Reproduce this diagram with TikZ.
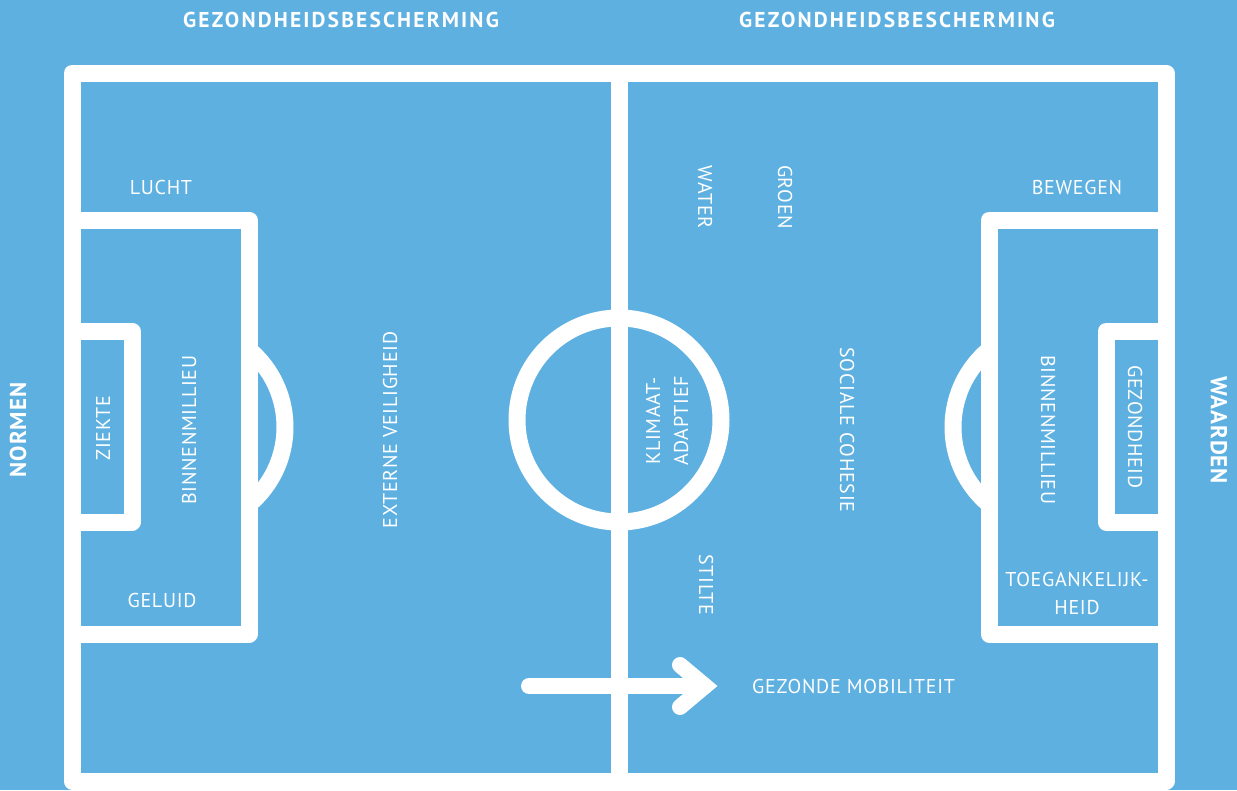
\documentclass[tikz,border=0pt]{standalone}
\usepackage{fontspec}
\setmainfont{PT Sans}
\definecolor{bg}{HTML}{5EB0E1}
\tikzset{
  fieldline/.style={draw=white, line width=17pt, line join=round},
  lbl/.style={text=white, font=\fontsize{20}{28}\selectfont\addfontfeatures{LetterSpace=3.5}, inner sep=0pt, align=center},
  titlelbl/.style={lbl, font=\fontsize{21.5}{28}\selectfont\bfseries\addfontfeatures{LetterSpace=10}},
  sidelbl/.style={lbl, font=\fontsize{23}{28}\selectfont\bfseries\addfontfeatures{LetterSpace=4}},
  arrowline/.style={draw=white, line width=16pt, line cap=round},
}
\begin{document}
\begin{tikzpicture}[x=1pt,y=-1pt]
\fill[bg] (0,0) rectangle (1237,790);
\useasboundingbox (0,0) rectangle (1237,790);
% field
\draw[fieldline] (72,73) rectangle (1166,781);
\draw[fieldline] (619,73) -- (619,781);
\draw[fieldline] (619,420) circle[radius=102];
% left boxes
\draw[fieldline] (72,220) -- (249,220) -- (249,634) -- (72,634);
\draw[fieldline] (72,331) -- (132,331) -- (132,522) -- (72,522);
\begin{scope}
  \clip (249,0) rectangle (619,790);
  \draw[fieldline] (184,427) circle[radius=101];
\end{scope}
% right boxes
\draw[fieldline] (1166,220) -- (989,220) -- (989,634) -- (1166,634);
\draw[fieldline] (1166,331) -- (1106,331) -- (1106,522) -- (1166,522);
\begin{scope}
  \clip (619,0) rectangle (989,790);
  \draw[fieldline] (1054,427) circle[radius=101];
\end{scope}
% arrow
\coordinate (a0) at (529,686);
\coordinate (tip) at (705,686);
\coordinate (au) at (680,665);
\coordinate (al) at (680,707);
\draw[arrowline] (a0) -- (tip);
\draw[arrowline, line join=miter] (au) -- (tip) -- (al);
% labels
\node[titlelbl] (titleL) at (341,20) {GEZONDHEIDSBESCHERMING};
\node[titlelbl] (titleR) at (897,20) {GEZONDHEIDSBESCHERMING};
\node[sidelbl, rotate=90] (normen) at (18,430) {NORMEN};
\node[sidelbl, rotate=-90] (waarden) at (1219,430) {WAARDEN};
\node[lbl] (lucht) at (161,187) {LUCHT};
\node[lbl] (geluid) at (162,600) {GELUID};
\node[lbl, rotate=90] (ziekte) at (103,428) {ZIEKTE};
\node[lbl, rotate=90] (binnenL) at (189,430) {BINNENMILLIEU};
\node[lbl, rotate=90] (extern) at (390,430) {EXTERNE VEILIGHEID};
\node[lbl, rotate=90] (klimaat) at (667,421) {KLIMAAT-\\ADAPTIEF};
\node[lbl, rotate=-90] (water) at (705,197) {WATER};
\node[lbl, rotate=-90] (groen) at (785,197) {GROEN};
\node[lbl, rotate=-90] (sociaal) at (847,430) {SOCIALE COHESIE};
\node[lbl, rotate=-90] (stilte) at (706,585) {STILTE};
\node[lbl] (bewegen) at (1077,187) {BEWEGEN};
\node[lbl, rotate=-90] (binnenR) at (1048,430) {BINNENMILLIEU};
\node[lbl, rotate=-90] (gezond) at (1135,427) {GEZONDHEID};
\node[lbl] (toeg) at (1077,593) {TOEGANKELIJK-\\HEID};
\node[lbl, anchor=west] (mobil) at (752,686) {GEZONDE MOBILITEIT};
\end{tikzpicture}
\end{document}
